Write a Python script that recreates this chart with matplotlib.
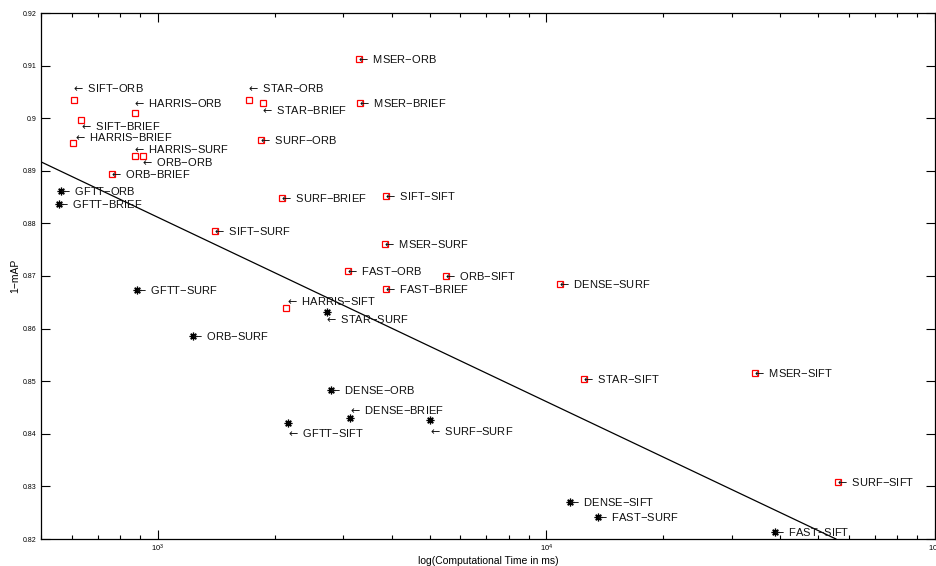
import matplotlib.pyplot as plt
from matplotlib.ticker import LogLocator

plt.rcParams['font.family'] = ['Liberation Sans', 'DejaVu Sans']

# red squares
sq_names = ["SIFT−ORB", "SIFT−BRIEF", "HARRIS−ORB", "HARRIS−BRIEF", "HARRIS−SURF",
            "ORB−ORB", "ORB−BRIEF", "STAR−ORB", "STAR−BRIEF", "SURF−ORB",
            "SURF−BRIEF", "MSER−ORB", "MSER−BRIEF", "SIFT−SIFT", "MSER−SURF",
            "SIFT−SURF", "FAST−ORB", "ORB−SIFT", "FAST−BRIEF", "HARRIS−SIFT",
            "DENSE−SURF", "STAR−SIFT", "MSER−SIFT", "SURF−SIFT"]
sq_time = [607, 633, 873, 604, 873, 915, 762, 1714, 1862, 1847,
           2080, 3293, 3318, 3855, 3840, 1399, 3091, 5521, 3855, 2142,
           10819, 12523, 34440, 56360]
sq_map = [0.9035, 0.8997, 0.9010, 0.8952, 0.8929, 0.8928, 0.8894, 0.9035, 0.9028, 0.8959,
          0.8849, 0.91125, 0.90295, 0.8852, 0.8761, 0.8785, 0.8710, 0.8700, 0.8675, 0.8639,
          0.8684, 0.8504, 0.8515, 0.8308]

# black asterisks
st_names = ["GFTT−ORB", "GFTT−BRIEF", "GFTT−SURF", "ORB−SURF", "GFTT−SIFT",
            "STAR−SURF", "DENSE−ORB", "DENSE−BRIEF", "SURF−SURF", "DENSE−SIFT",
            "FAST−SURF", "FAST−SIFT"]
st_time = [564, 556, 885, 1228, 2159, 2716, 2796, 3122, 5023, 11527, 13605, 38800]
st_map = [0.8862, 0.8836, 0.8673, 0.8586, 0.8420, 0.8632, 0.8483, 0.8430, 0.8426,
          0.8270, 0.8241, 0.8213]

# trend line
trend_time = [500, 55600]
trend_map = [0.8917, 0.8200]

# label shifts in pixels (right, down) where the label is not at the marker
shift = {"SIFT−ORB": (0, -12), "SIFT−BRIEF": (1, 6), "HARRIS−ORB": (0, -10),
         "HARRIS−BRIEF": (3, -6), "HARRIS−SURF": (0, -7), "ORB−ORB": (0, 6),
         "STAR−ORB": (0, -12), "STAR−BRIEF": (0, 7), "HARRIS−SIFT": (2, -7),
         "STAR−SURF": (0, 7), "DENSE−BRIEF": (1, -8), "GFTT−SIFT": (1, 10),
         "SURF−SURF": (1, 11)}

fig = plt.figure(figsize=(9.36, 5.66), dpi=100)
ax = fig.add_axes([41 / 936, 27 / 566, 894 / 936, 526 / 566])

ax.plot(trend_time, trend_map, color="black", lw=0.9)
ax.plot(sq_time, sq_map, ls="none", marker="s", ms=5, mfc="none", mec="red", mew=0.9)
ax.plot(st_time, st_map, ls="none", marker=(8, 2, 0), ms=5.5, color="black", mew=0.9)

for names, xs, ys in [(sq_names, sq_time, sq_map), (st_names, st_time, st_map)]:
    for n, x, y in zip(names, xs, ys):
        dx, dy = shift.get(n, (0, 0))
        ax.annotate(r"$\leftarrow$ " + n, (x, y), xytext=(dx - 3, -dy), textcoords="offset pixels",
                    ha="left", va="center", fontsize=8, color="#111111")

ax.set_xscale("log")
ax.set_xlim(500, 1e5)
ax.set_ylim(0.82, 0.92)
ax.xaxis.set_major_locator(LogLocator(base=10))
ax.xaxis.set_minor_locator(LogLocator(base=10, subs=range(2, 10)))
ax.tick_params(which="both", direction="in", top=True, right=True, width=0.8)
ax.tick_params(which="major", length=6.5, labelsize=5, pad=3)
ax.tick_params(which="minor", length=3)
ax.tick_params(axis="x", which="major", labelsize=5.5)
ax.set_yticks([0.82 + 0.01 * i for i in range(11)])
ax.set_yticklabels(["0.82", "0.83", "0.84", "0.85", "0.86", "0.87", "0.88", "0.89", "0.9", "0.91", "0.92"])
for s in ax.spines.values():
    s.set_linewidth(0.9)

ax.set_xlabel("log(Computational Time in ms)", fontsize=7.5, labelpad=1)
ax.set_ylabel("1−mAP", fontsize=7.5, labelpad=2)

fig.savefig("out.png", dpi=100)
